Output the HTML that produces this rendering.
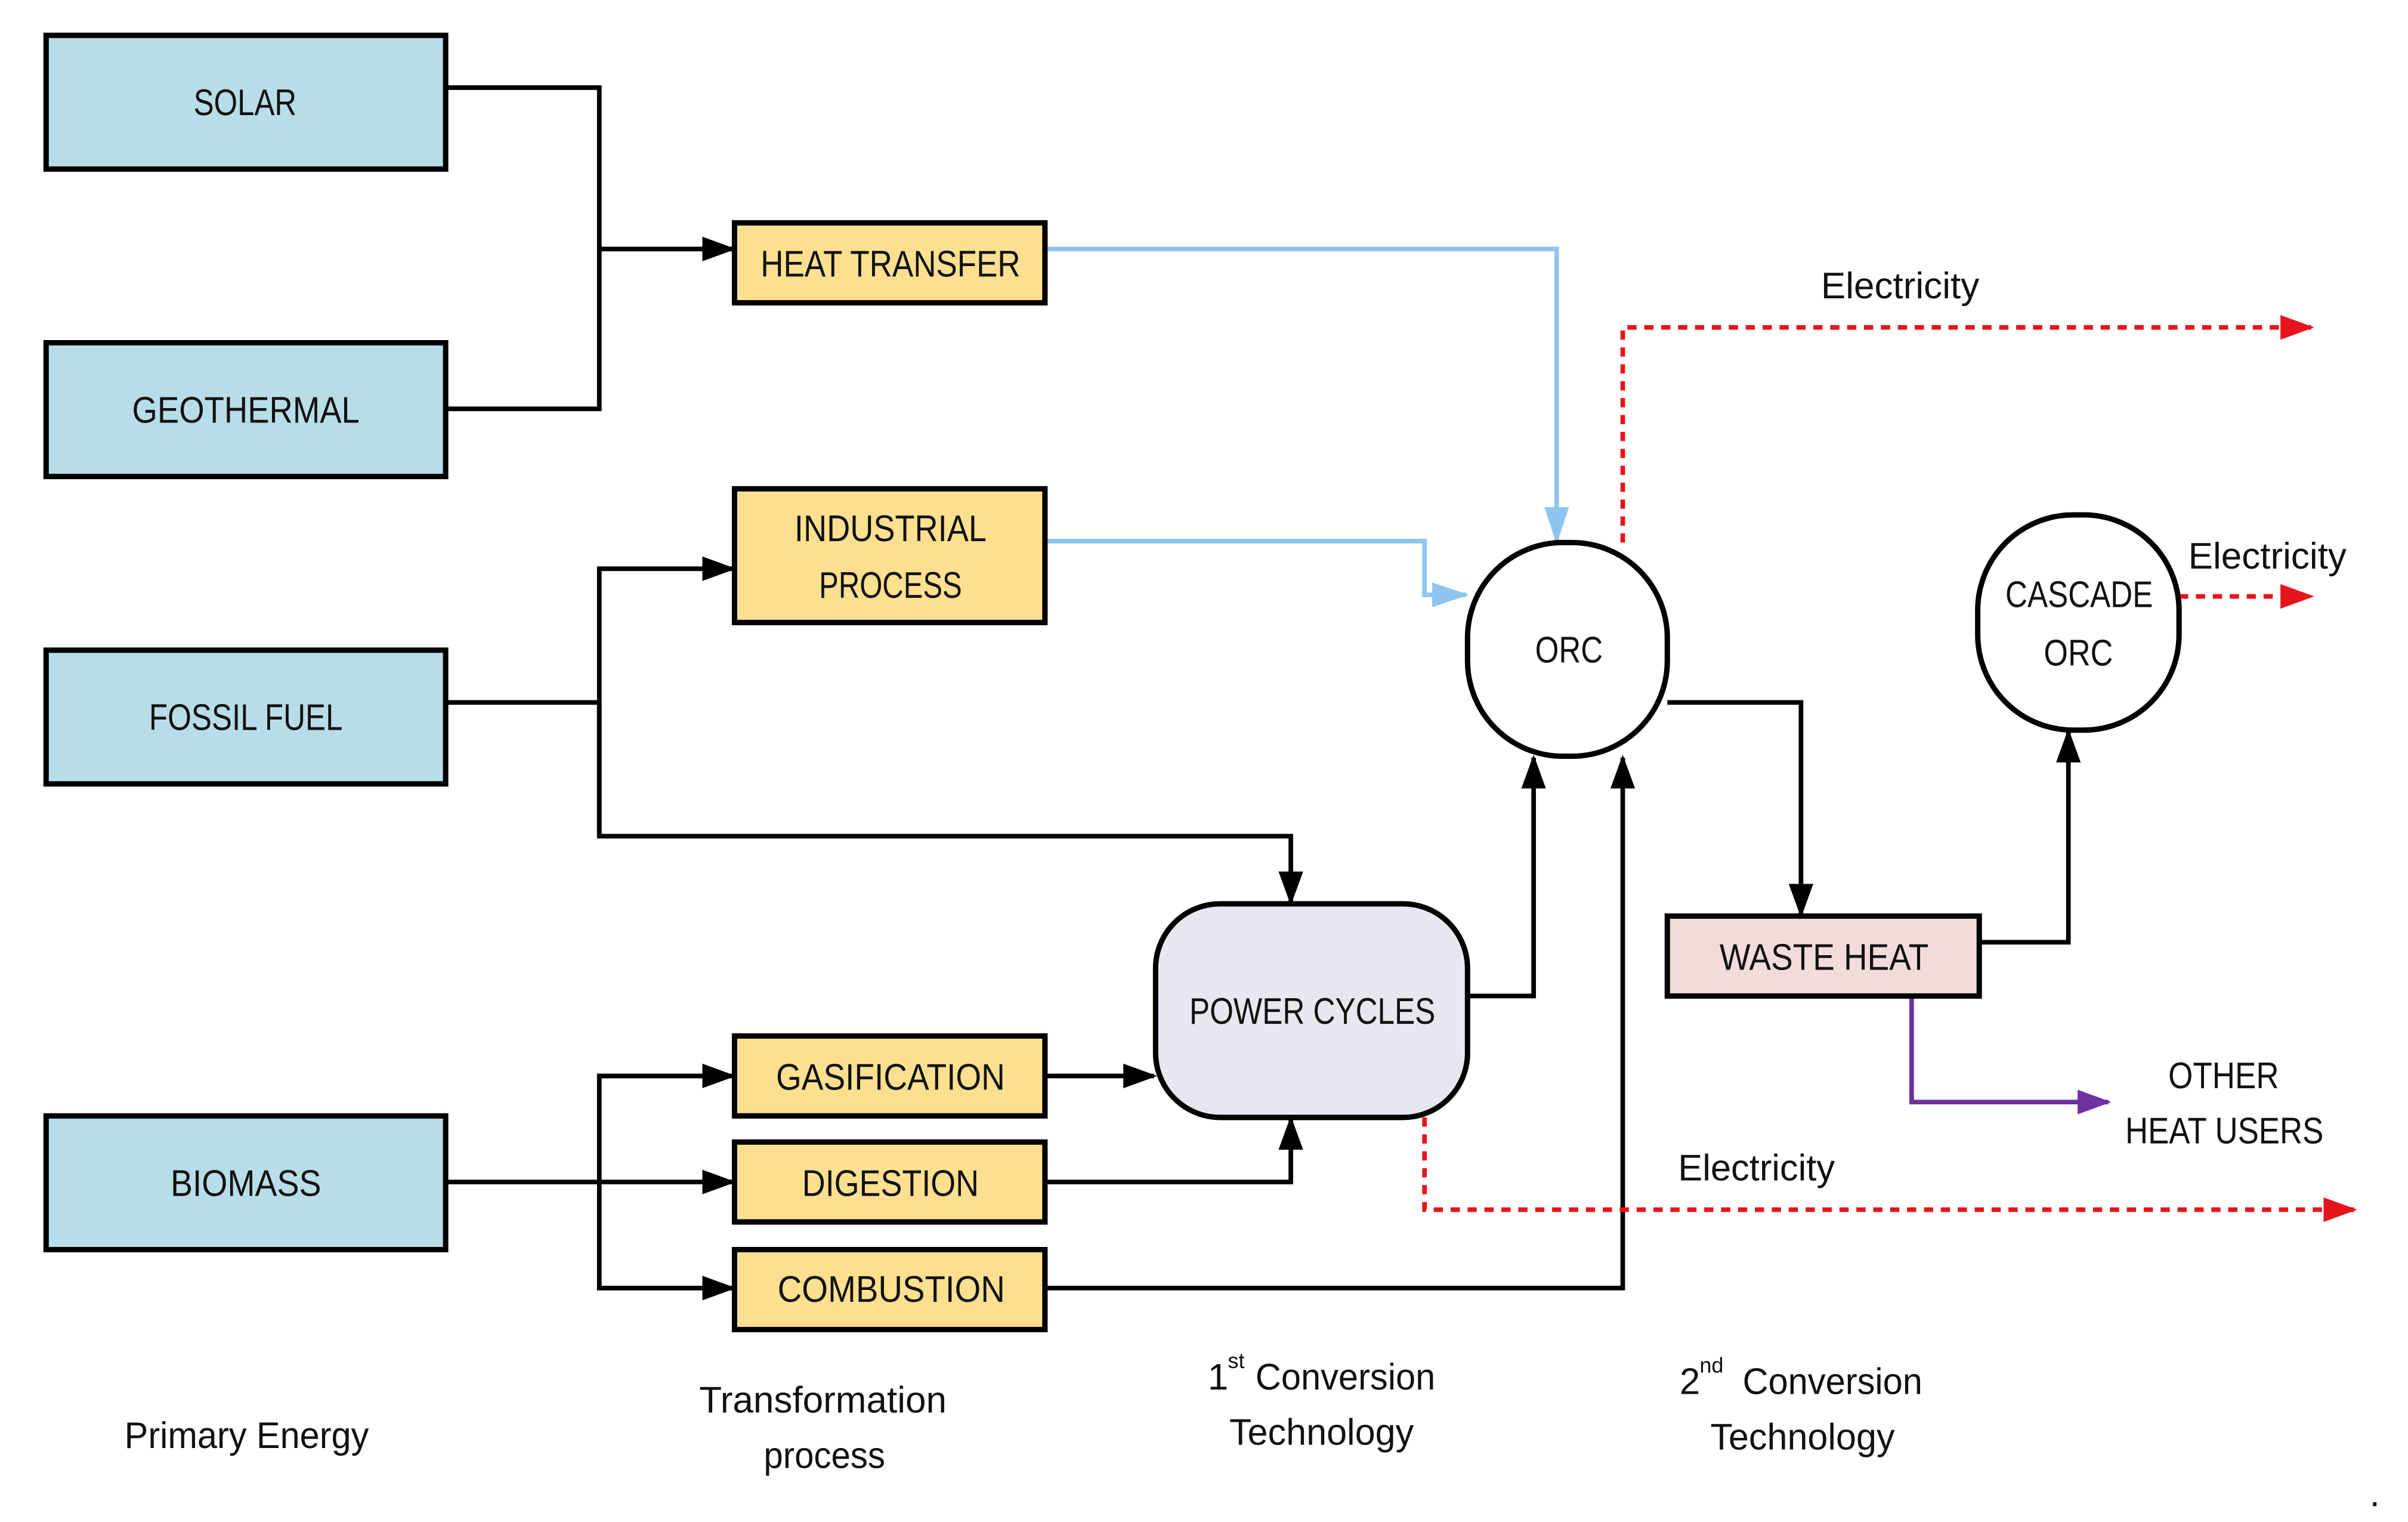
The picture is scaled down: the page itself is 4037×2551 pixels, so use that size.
<!DOCTYPE html>
<html><head><meta charset="utf-8"><style>
html,body{margin:0;padding:0;background:#fff;}
svg{display:block;}
text{font-family:"Liberation Sans",sans-serif;font-size:24px;fill:#111;}
</style></head><body>
<svg width="4037" height="2551" viewBox="0 0 1567 990.2" preserveAspectRatio="none" xmlns="http://www.w3.org/2000/svg">
<defs>
<marker id="ab" markerWidth="22" markerHeight="16" refX="20" refY="8" orient="auto" markerUnits="userSpaceOnUse"><path d="M0,0 L22,8 L0,16 Z" fill="#000"/></marker>
<marker id="al" markerWidth="24" markerHeight="16" refX="22" refY="8" orient="auto" markerUnits="userSpaceOnUse"><path d="M0,0 L24,8 L0,16 Z" fill="#8ec4f0"/></marker>
<marker id="ar" markerWidth="22" markerHeight="16" refX="20" refY="8" orient="auto" markerUnits="userSpaceOnUse"><path d="M0,0 L22,8 L0,16 Z" fill="#e8141b"/></marker>
<marker id="ap" markerWidth="22" markerHeight="16" refX="20" refY="8" orient="auto" markerUnits="userSpaceOnUse"><path d="M0,0 L22,8 L0,16 Z" fill="#7030a0"/></marker>
</defs>
<g fill="none" stroke="#000" stroke-width="3">
<polyline points="290,57 390,57 390,266 290,266"/>
<line x1="390" y1="162" x2="477" y2="162" marker-end="url(#ab)"/>
<polyline points="290,457 390,457"/>
<polyline points="390,544 390,370 477,370" marker-end="url(#ab)"/>
<polyline points="390,457 390,544 840,544 840,587" marker-end="url(#ab)"/>
<line x1="290" y1="769" x2="477" y2="769" marker-end="url(#ab)"/>
<polyline points="477,700 390,700 390,838 477,838"/>
<line x1="390" y1="700" x2="477" y2="700" marker-end="url(#ab)"/>
<line x1="390" y1="838" x2="477" y2="838" marker-end="url(#ab)"/>
<line x1="680" y1="700" x2="751" y2="700" marker-end="url(#ab)"/>
<polyline points="680,769 840,769 840,728" marker-end="url(#ab)"/>
<polyline points="680,838 1056,838 1056,493" marker-end="url(#ab)"/>
<polyline points="955,648 998,648 998,493" marker-end="url(#ab)"/>
<polyline points="1085,457 1172,457 1172,595" marker-end="url(#ab)"/>
<polyline points="1288,613 1346,613 1346,476" marker-end="url(#ab)"/>
</g>
<g fill="none" stroke="#8ec4f0" stroke-width="3">
<polyline points="680,162 1013,162 1013,352" marker-end="url(#al)"/>
<polyline points="680,352 927,352 927,387 954,387" marker-end="url(#al)"/>
</g>
<g fill="none" stroke="#e8141b" stroke-width="3" stroke-dasharray="6,5">
<polyline points="1056,353 1056,213 1504,213" marker-end="url(#ar)"/>
<line x1="1418" y1="388" x2="1504" y2="388" marker-end="url(#ar)"/>
<polyline points="927,727 927,787 1532,787" marker-end="url(#ar)"/>
</g>
<polyline points="1244,648 1244,717 1372,717" fill="none" stroke="#7030a0" stroke-width="3" marker-end="url(#ap)"/>
<g stroke="#000" stroke-width="3.5">
<rect x="30" y="23" width="260" height="87" fill="#b7dde8"/>
<rect x="30" y="223" width="260" height="87" fill="#b7dde8"/>
<rect x="30" y="423" width="260" height="87" fill="#b7dde8"/>
<rect x="30" y="726" width="260" height="87" fill="#b7dde8"/>
<rect x="478" y="145" width="202" height="52" fill="#fde08f"/>
<rect x="478" y="318" width="202" height="87" fill="#fde08f"/>
<rect x="478" y="674" width="202" height="52" fill="#fde08f"/>
<rect x="478" y="743" width="202" height="52" fill="#fde08f"/>
<rect x="478" y="813" width="202" height="52" fill="#fde08f"/>
<rect x="752" y="588" width="203" height="139" rx="42" fill="#e8e6ef"/>
<rect x="955" y="353" width="130" height="139" rx="62" fill="#fff"/>
<rect x="1287" y="335" width="131" height="140" rx="62" fill="#fff"/>
<rect x="1085" y="596" width="203" height="52" fill="#f2dcdb"/>
</g>
<g text-anchor="start">
<text x="126" y="75" textLength="67" lengthAdjust="spacingAndGlyphs">SOLAR</text>
<text x="86" y="275" textLength="148" lengthAdjust="spacingAndGlyphs">GEOTHERMAL</text>
<text x="97" y="475" textLength="126" lengthAdjust="spacingAndGlyphs">FOSSIL FUEL</text>
<text x="111" y="778" textLength="98" lengthAdjust="spacingAndGlyphs">BIOMASS</text>
<text x="495" y="180" textLength="169" lengthAdjust="spacingAndGlyphs">HEAT TRANSFER</text>
<text x="517" y="352" textLength="125" lengthAdjust="spacingAndGlyphs">INDUSTRIAL</text>
<text x="533" y="389" textLength="93" lengthAdjust="spacingAndGlyphs">PROCESS</text>
<text x="505" y="709" textLength="149" lengthAdjust="spacingAndGlyphs">GASIFICATION</text>
<text x="522" y="778" textLength="115" lengthAdjust="spacingAndGlyphs">DIGESTION</text>
<text x="506" y="847" textLength="148" lengthAdjust="spacingAndGlyphs">COMBUSTION</text>
<text x="774" y="666" textLength="160" lengthAdjust="spacingAndGlyphs">POWER CYCLES</text>
<text x="999" y="431" textLength="44" lengthAdjust="spacingAndGlyphs">ORC</text>
<text x="1305" y="395" textLength="96" lengthAdjust="spacingAndGlyphs">CASCADE</text>
<text x="1330" y="433" textLength="45" lengthAdjust="spacingAndGlyphs">ORC</text>
<text x="1119" y="631" textLength="136" lengthAdjust="spacingAndGlyphs">WASTE HEAT</text>
<text x="1185" y="194" textLength="103" lengthAdjust="spacingAndGlyphs">Electricity</text>
<text x="1424" y="370" textLength="103" lengthAdjust="spacingAndGlyphs">Electricity</text>
<text x="1092" y="768" textLength="102" lengthAdjust="spacingAndGlyphs">Electricity</text>
<text x="1411" y="708" textLength="72" lengthAdjust="spacingAndGlyphs">OTHER</text>
<text x="1383" y="744" textLength="129" lengthAdjust="spacingAndGlyphs">HEAT USERS</text>
<text x="81" y="942" textLength="159" lengthAdjust="spacingAndGlyphs">Primary Energy</text>
<text x="455" y="919" textLength="161" lengthAdjust="spacingAndGlyphs">Transformation</text>
<text x="497" y="955" textLength="79" lengthAdjust="spacingAndGlyphs">process</text>
<text x="786" y="904">1</text>
<text x="799" y="890" style="font-size:14px">st</text>
<text x="817" y="904" textLength="117" lengthAdjust="spacingAndGlyphs">Conversion</text>
<text x="800" y="940" textLength="120" lengthAdjust="spacingAndGlyphs">Technology</text>
<text x="1093" y="907">2</text>
<text x="1106" y="893" style="font-size:14px">nd</text>
<text x="1134" y="907" textLength="117" lengthAdjust="spacingAndGlyphs">Conversion</text>
<text x="1113" y="943" textLength="120" lengthAdjust="spacingAndGlyphs">Technology</text>
<text x="1542" y="980">.</text>
</g>
</svg>
</body></html>
